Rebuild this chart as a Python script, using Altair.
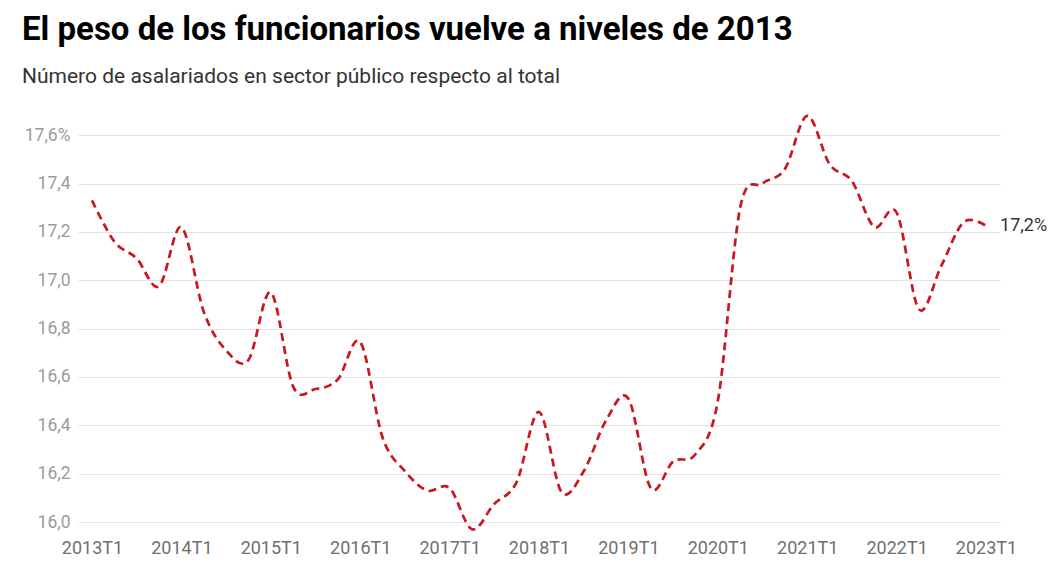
import altair as alt
import pandas as pd

quarters = [f"{y}T{q}" for y in range(2013, 2024) for q in range(1, 5)][:41]
tick_labels = [f"{y}T1" for y in range(2013, 2024)]

values = [
    17.33, 17.16, 17.09, 16.975,
    17.22, 16.87, 16.71, 16.67,
    16.95, 16.56, 16.55, 16.59,
    16.745, 16.35, 16.21, 16.13,
    16.14, 15.97, 16.075, 16.165,
    16.455, 16.125, 16.21, 16.42,
    16.51, 16.14, 16.25, 16.28,
    16.50, 17.30, 17.40, 17.46,
    17.68, 17.48, 17.41, 17.22,
    17.28, 16.88, 17.06, 17.24,
    17.225,
]
y_ticks = [16.0, 16.2, 16.4, 16.6, 16.8, 17.0, 17.2, 17.4, 17.6]

df = pd.DataFrame({"trimestre": quarters, "valor": values})

FONT = "Roboto"

x_enc = alt.X(
    "trimestre:O",
    sort=quarters,
    scale=alt.Scale(type="point", padding=0.625),
    axis=alt.Axis(
        values=tick_labels, labelAngle=0, ticks=False, domain=False, grid=False,
        labelFont=FONT, labelFontSize=18, labelColor="#6f6f6f", labelPadding=17,
        title=None,
    ),
)
y_enc = alt.Y(
    "valor:Q",
    scale=alt.Scale(domain=[16, 17.7], nice=False, zero=False),
    axis=alt.Axis(
        values=y_ticks, ticks=False, domain=False, grid=True,
        gridColor="#e3e3e3", gridWidth=1,
        labelFont=FONT, labelFontSize=17.5, labelColor="#9b9b9b", labelPadding=8,
        labelExpr="abs(datum.value - 17.6) < 0.001 ? '17,6%' : replace(format(datum.value, '.1f'), '.', ',')",
        title=None,
    ),
)

base = alt.Chart(df)

line = base.mark_line(
    interpolate="cardinal", color="#c9161f", strokeWidth=2.7, strokeDash=[8, 5]
).encode(x=x_enc, y=y_enc)

label = base.transform_filter(
    alt.datum.trimestre == quarters[-1]
).transform_calculate(
    etiqueta="replace(format(datum.valor, '.1f'), '.', ',') + '%'"
).mark_text(
    align="left", baseline="middle", dx=14, font=FONT, fontSize=18, color="#333333"
).encode(x=x_enc, y=y_enc, text="etiqueta:N")

chart = (line + label).properties(
    width=922,
    height=411,
    autosize=alt.AutoSizeParams(type="none"),
    padding={"left": 70, "top": 103, "right": 56, "bottom": 38},
    title=alt.TitleParams(
        text="El peso de los funcionarios vuelve a niveles de 2013",
        subtitle="Número de asalariados en sector público respecto al total",
        anchor="start", frame="group", dx=-56, offset=23,
        font=FONT, fontSize=33, fontWeight="bold", color="#000000",
        subtitleFont=FONT, subtitleFontSize=21, subtitleColor="#333333",
        subtitlePadding=19,
    ),
).configure_view(stroke=None)

chart.save("out.html", embed_options={"renderer": "svg", "actions": False})
